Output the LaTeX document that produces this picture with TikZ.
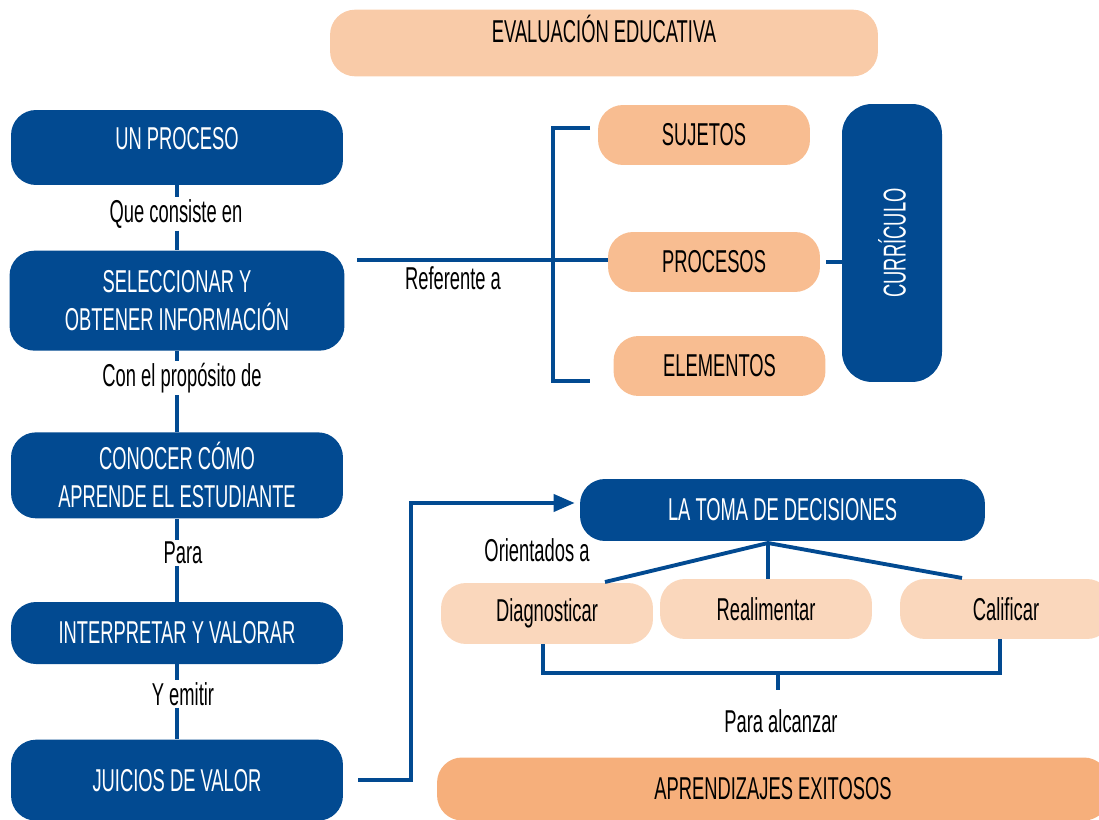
\documentclass[tikz,border=0pt]{standalone}
\usepackage{fontspec}
\usepackage{graphicx}
\setmainfont{Liberation Sans}[FakeStretch=0.58]
\usetikzlibrary{positioning,arrows.meta}
\definecolor{azul}{HTML}{024A91}
\definecolor{titulo}{HTML}{F9CBA8}
\definecolor{durazno}{HTML}{F8BD91}
\definecolor{claro}{HTML}{FAD7BC}
\definecolor{meta}{HTML}{F6AF7B}
\tikzset{bloque/.style={rectangle,rounded corners=0.5cm,fill=azul,text=white,minimum width=6.64cm,align=center,font=\fontsize{18}{21.6}\selectfont}}
\tikzset{opcion/.style={rectangle,rounded corners=0.5cm,fill=durazno,minimum width=4.24cm,minimum height=1.2cm,font=\fontsize{18}{21.6}\selectfont}}
\tikzset{accion/.style={opcion,fill=claro,minimum height=1.22cm}}
\tikzset{etiqueta/.style={inner sep=1pt,font=\fontsize{18}{21.6}\selectfont}}
\tikzset{enlace/.style={draw=azul,line width=2.2pt}}
\tikzset{flecha/.style={enlace,-{Triangle[length=0.42cm,width=0.34cm]}}}

\begin{document}
\begin{tikzpicture}[x=0.02cm,y=-0.02cm]
\useasboundingbox (0,0) rectangle (1099,820);
% titulo
\node (evaluacion) [opcion, fill=titulo, minimum width=10.96cm, minimum height=1.32cm, text depth=0.55cm] at (604,43) {EVALUACIÓN EDUCATIVA};
% columna izquierda
\node (proceso) [bloque, minimum height=1.5cm, text depth=0.36cm] at (177,147.5) {UN PROCESO};
\node (seleccion) [bloque, minimum width=6.7cm, minimum height=2cm, below=1.3cm of proceso] {SELECCIONAR Y\\OBTENER INFORMACIÓN};
\node (conocer) [bloque, minimum height=1.72cm, below=1.62cm of seleccion] {CONOCER CÓMO\\APRENDE EL ESTUDIANTE};
\node (interpretar) [bloque, minimum height=1.24cm, below=1.66cm of conocer] {INTERPRETAR Y VALORAR};
\node (juicios) [bloque, minimum height=1.62cm, below=1.5cm of interpretar] {JUICIOS DE VALOR};
\node (consiste) [etiqueta] at (176,214) {Que consiste en};
\node (proposito) [etiqueta] at (182,378) {Con el propósito de};
\node (para) [etiqueta] at (183,553) {Para};
\node (emitir) [etiqueta] at (183,694) {Y emitir};
\draw [enlace] (proceso) -- (proceso |- consiste.north) (proceso |- consiste.south) -- (seleccion);
\draw [enlace] (seleccion) -- (seleccion |- proposito.north) (seleccion |- proposito.south) -- (conocer);
\draw [enlace] (conocer) -- (conocer |- para.north) (conocer |- para.south) -- (interpretar);
\draw [enlace] (interpretar) -- (interpretar |- emitir.north) (interpretar |- emitir.south) -- (juicios);
% referentes
\node (sujetos) [opcion] at (704,135) {SUJETOS};
\node (procesos) [opcion] at (714,262) {PROCESOS};
\node (elementos) [opcion] at (719.5,366) {ELEMENTOS};
\node (curriculo) [bloque, minimum width=2cm, minimum height=5.56cm, rounded corners=0.6cm] at (892,243) {\rotatebox{90}{CURRÍCULO}};
\node (referente) [etiqueta] at (453,278) {Referente a};
\coordinate (refe) at (357,260);
\coordinate (llaveA) at (590,128);
\coordinate (llaveB) at (590,381);
\draw [enlace] (refe) -- (refe -| procesos.west);
\draw [enlace] (llaveA) -- ++(-37,0) |- (llaveB);
\draw [enlace, shorten <=0.12cm] (procesos.east) -- (procesos.east -| curriculo.west);
% decisiones
\node (toma) [bloque, minimum width=8.1cm, minimum height=1.24cm] at (782.5,510) {LA TOMA DE DECISIONES};
\node (orientados) [etiqueta] at (537,550) {Orientados a};
\node (diag) [accion] at (547,613.5) {Diagnosticar};
\node (realim) [accion, minimum height=1.2cm] at (766,609) {Realimentar};
\node (calif) [accion, minimum height=1.2cm] at (1006,609) {Calificar};
\coordinate (codo) at (411,503);
\draw [flecha, shorten <=0.3cm, shorten >=0.1cm] (juicios.east) -| (codo) -- (toma.west |- codo);
\coordinate (raiz) at (768,543);
\coordinate (rDiag) at (605,582);
\coordinate (rCal) at (962,578);
\draw [enlace] (rDiag) -- (raiz) -- (rCal);
\draw [enlace] (raiz) -- (raiz |- realim.north);
\coordinate (baseL) at (543,673);
\coordinate (baseR) at (1000,673);
\coordinate (medio) at (778,673);
\draw [enlace] (baseL |- diag.south) -- (baseL) -- (baseR) -- (baseR |- calif.south);
\draw [enlace] (medio) -- ++(0,17);
\node (alcanzar) [etiqueta] at (781,721) {Para alcanzar};
\node (aprendizajes) [opcion, fill=meta, minimum width=13.44cm, minimum height=1.26cm] at (773,789) {APRENDIZAJES EXITOSOS};
\end{tikzpicture}
\end{document}
